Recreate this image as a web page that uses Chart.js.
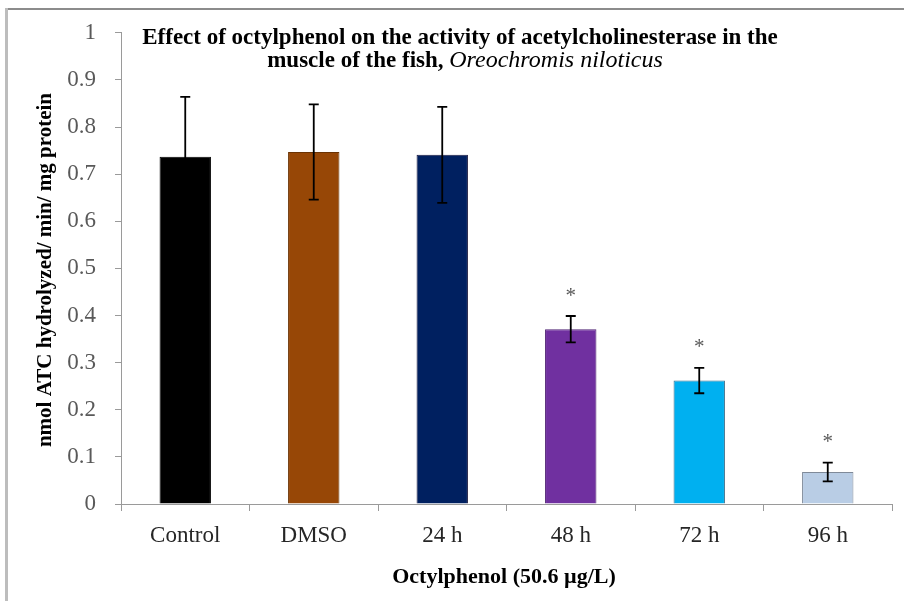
<!DOCTYPE html>
<html>
<head>
<meta charset="utf-8">
<script src="https://cdn.jsdelivr.net/npm/chart.js@4.4.1/dist/chart.umd.min.js"></script>
<style>
  html, body { margin: 0; padding: 0; background: #fff; }
  #wrap { position: relative; width: 904px; height: 601px; }
</style>
</head>
<body>
<div id="wrap"><canvas id="c" width="904" height="601"></canvas></div>
<script>
const categories = ['Control', 'DMSO', '24 h', '48 h', '72 h', '96 h'];
const means = [0.737, 0.747, 0.741, 0.371, 0.262, 0.068];
const errors = [0.127, 0.101, 0.102, 0.028, 0.027, 0.020];
const significant = [false, false, false, true, true, true];
const barColors = ['#000000', '#974706', '#002060', '#7030A0', '#00B0F0', '#B9CDE5'];
const borderColors = ['#000000', '#6b3304', '#1a1a40', '#4f2273', '#3a6f8c', '#7f8a99'];
const yMin = 0, yMax = 1, yStep = 0.1;

const titleLine1 = 'Effect of octylphenol on the activity of acetylcholinesterase in the';
const titleLine2a = 'muscle of the fish, ';
const titleLine2b = 'Oreochromis niloticus';
const xTitle = 'Octylphenol (50.6 \u00B5g/L)';
const yTitle = 'nmol ATC hydrolyzed/ min/ mg protein';

const SERIF = '"Liberation Serif", "Times New Roman", serif';

const frame = {
  id: 'frame',
  beforeDraw(chart) {
    const ctx = chart.ctx;
    ctx.save();
    ctx.fillStyle = '#8c8c8c';
    ctx.fillRect(6, 8, 898, 2);
    ctx.fillStyle = '#bdbdbd';
    ctx.fillRect(5, 8, 3, 593);
    ctx.restore();
  }
};

const errorBars = {
  id: 'errorBars',
  afterDatasetsDraw(chart) {
    const ctx = chart.ctx;
    const xs = chart.scales.x, ys = chart.scales.y;
    ctx.save();
    ctx.strokeStyle = '#000';
    ctx.lineWidth = 1.8;
    means.forEach((m, i) => {
      const x = xs.getPixelForValue(i);
      const yt = ys.getPixelForValue(m + errors[i]);
      const yb = ys.getPixelForValue(m - errors[i]);
      ctx.beginPath();
      ctx.moveTo(x, yt); ctx.lineTo(x, yb);
      ctx.moveTo(x - 5, yt); ctx.lineTo(x + 5, yt);
      ctx.moveTo(x - 5, yb); ctx.lineTo(x + 5, yb);
      ctx.stroke();
      if (significant[i]) {
        ctx.fillStyle = '#595959';
        ctx.font = '21px ' + SERIF;
        ctx.textAlign = 'center';
        ctx.textBaseline = 'middle';
        ctx.fillText('*', x, yt - 20);
      }
    });
    ctx.restore();
  }
};

const texts = {
  id: 'texts',
  afterDraw(chart) {
    const ctx = chart.ctx;
    ctx.save();
    ctx.fillStyle = '#000';
    ctx.textBaseline = 'middle';
    // title line 1
    ctx.font = 'bold 23px ' + SERIF;
    ctx.textAlign = 'center';
    ctx.fillText(titleLine1, 460, 38);
    // title line 2 (mixed)
    ctx.font = 'bold 23px ' + SERIF;
    const wa = ctx.measureText(titleLine2a).width;
    ctx.font = 'italic 24px ' + SERIF;
    const wb = ctx.measureText(titleLine2b).width;
    let sx = 465 - (wa + wb) / 2;
    ctx.textAlign = 'left';
    ctx.font = 'bold 23px ' + SERIF;
    ctx.fillText(titleLine2a, sx, 61);
    ctx.font = 'italic 24px ' + SERIF;
    ctx.fillText(titleLine2b, sx + wa, 61);
    // x title
    ctx.textAlign = 'center';
    ctx.font = 'bold 22px ' + SERIF;
    ctx.fillText(xTitle, 504, 577);
    // y title
    ctx.font = 'bold 21px ' + SERIF;
    ctx.translate(46, 270);
    ctx.rotate(-Math.PI / 2);
    ctx.fillText(yTitle, 0, 0);
    ctx.restore();
  }
};

new Chart(document.getElementById('c'), {
  type: 'bar',
  data: {
    labels: categories,
    datasets: [{
      data: means,
      backgroundColor: barColors,
      borderColor: borderColors,
      borderWidth: 1,
      barPercentage: 0.4,
      categoryPercentage: 1.0
    }]
  },
  options: {
    responsive: false,
    animation: false,
    devicePixelRatio: 1,
    layout: { padding: { top: 30, right: 12, left: 0, bottom: 0 } },
    plugins: {
      legend: { display: false },
      title: { display: false },
      tooltip: { enabled: false }
    },
    scales: {
      x: {
        afterFit(s) { s.height = 97; },
        grid: {
          display: true,
          drawOnChartArea: false,
          drawTicks: true,
          tickLength: 7,
          color: '#9a9a9a',
          offset: true
        },
        border: { display: true, color: '#9a9a9a', width: 1 },
        ticks: {
          color: '#262626',
          font: { family: SERIF, size: 23 },
          padding: 11
        }
      },
      y: {
        min: yMin,
        max: yMax,
        afterFit(s) { s.width = 121; },
        grid: {
          display: true,
          drawOnChartArea: false,
          drawTicks: true,
          tickLength: 6,
          color: '#9a9a9a'
        },
        border: { display: true, color: '#9a9a9a', width: 1 },
        ticks: {
          stepSize: yStep,
          color: '#595959',
          font: { family: SERIF, size: 23 },
          padding: 19,
          callback: v => String(Number(v.toFixed(1)))
        }
      }
    }
  },
  plugins: [frame, errorBars, texts]
});
</script>
</body>
</html>
